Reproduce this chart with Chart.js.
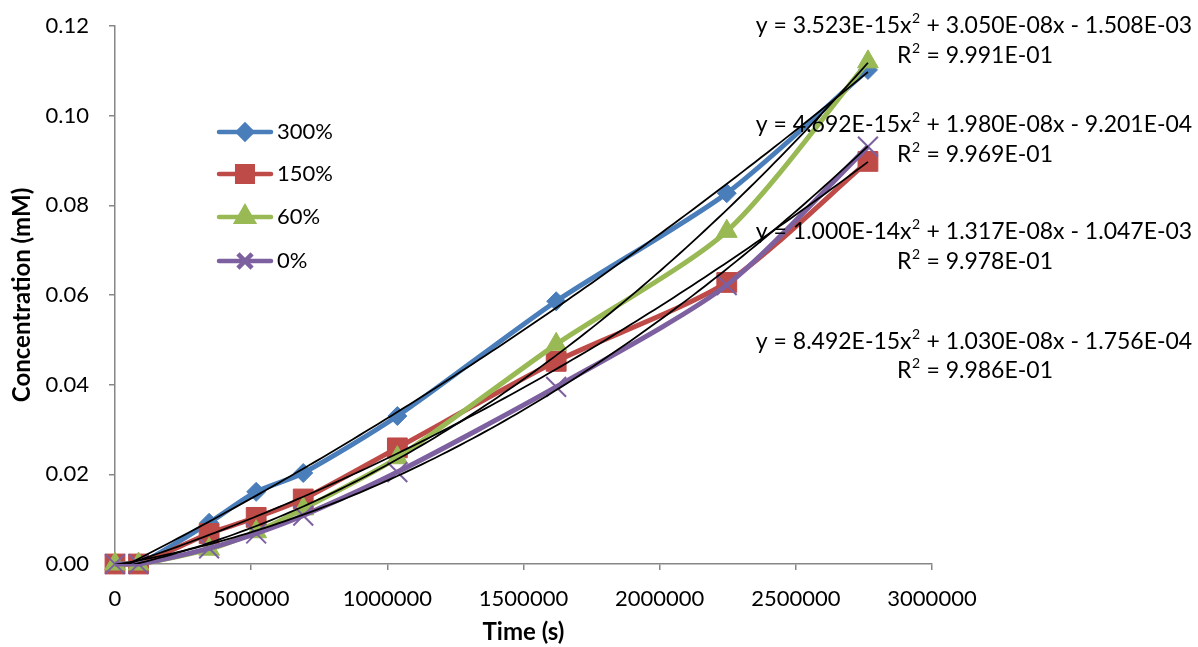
<!DOCTYPE html>
<html>
<head>
<meta charset="utf-8">
<script src="https://cdn.jsdelivr.net/npm/chart.js@4/dist/chart.umd.min.js"></script>
<style>
  html, body { margin: 0; padding: 0; background: #fff; }
  #wrap { width: 1198px; height: 647px; }
</style>
</head>
<body>
<div id="wrap"><canvas id="grafico"></canvas></div>
<script>
// tempos (s) e concentracoes (mM)
const tempos = [0, 86400, 345600, 518400, 691200, 1036800, 1620000, 2246400, 2764800];
const conc300 = [0, 0, 0.0092, 0.0161, 0.0203, 0.0330, 0.0586, 0.0827, 0.1102];
const conc150 = [0, 0, 0.0068, 0.0104, 0.0145, 0.0259, 0.0452, 0.0628, 0.0898];
const conc60 = [0, 0, 0.0033, 0.0072, 0.0123, 0.0237, 0.0490, 0.0742, 0.1120];
const conc0 = [0, 0, 0.0035, 0.0068, 0.0108, 0.0205, 0.0395, 0.0622, 0.0931];

const rotulos = ['300%', '150%', '60%', '0%'];
const cores = ['#4A7EBB', '#BE4B48', '#98B954', '#7D60A0'];
const marcadores = ['rectRot', 'rect', 'triangle', 'crossRot'];
const raios = [9.5, 14, 12, 14];       // tamanho dos marcadores no grafico
const raiosLegenda = [7, 11, 9.5, 10]; // tamanho dos marcadores na legenda

// coeficientes das linhas de tendencia (a x^2 + b x + c), como aparecem no grafico
const coefA = [3.523e-15, 4.692e-15, 1.000e-14, 8.492e-15];
const coefB = [3.050e-08, 1.980e-08, 1.317e-08, 1.030e-08];
const coefC = [-1.508e-03, -9.201e-04, -1.047e-03, -1.756e-04];
const equacoes = [
  'y = 3.523E-15x² + 3.050E-08x - 1.508E-03',
  'y = 4.692E-15x² + 1.980E-08x - 9.201E-04',
  'y = 1.000E-14x² + 1.317E-08x - 1.047E-03',
  'y = 8.492E-15x² + 1.030E-08x - 1.756E-04'
];
const r2 = ['R² = 9.991E-01', 'R² = 9.969E-01', 'R² = 9.978E-01', 'R² = 9.986E-01'];

const fonte = 'Lato, "Open Sans", sans-serif';
const series = [conc300, conc150, conc60, conc0];

function montaDados(valores) {
  return tempos.map((t, i) => ({ x: t, y: valores[i] }));
}

// escreve um texto centrado, com o "²" desenhado como expoente
function textoComExpoente(ctx, txt, cx, cy, tam) {
  const partes = txt.split('²');
  const normal = tam + 'px ' + fonte;
  const menor = Math.round(tam * 0.62) + 'px ' + fonte;
  ctx.font = normal;
  let largura = 0;
  partes.forEach((p, i) => {
    ctx.font = normal;
    largura += ctx.measureText(p).width;
    if (i < partes.length - 1) { ctx.font = menor; largura += ctx.measureText('2').width + 1; }
  });
  let px = cx - largura / 2;
  ctx.textAlign = 'left';
  ctx.textBaseline = 'middle';
  partes.forEach((p, i) => {
    ctx.font = normal;
    ctx.fillText(p, px, cy);
    px += ctx.measureText(p).width;
    if (i < partes.length - 1) {
      ctx.font = menor;
      ctx.fillText('2', px + 0.5, cy - tam * 0.33);
      px += ctx.measureText('2').width + 1;
    }
  });
}

// linhas de tendencia, equacoes e legenda
const extras = {
  id: 'extras',
  afterDatasetsDraw(chart) {
    const { ctx, chartArea, scales: { x, y } } = chart;
    ctx.save();
    ctx.beginPath();
    ctx.rect(chartArea.left, chartArea.top, chartArea.right - chartArea.left, chartArea.bottom - chartArea.top);
    ctx.clip();
    ctx.strokeStyle = '#000';
    ctx.lineWidth = 1.8;
    const tMax = tempos[tempos.length - 1];
    coefA.forEach((a, k) => {
      ctx.beginPath();
      for (let i = 0; i <= 120; i++) {
        const t = tMax * i / 120;
        const v = a * t * t + coefB[k] * t + coefC[k];
        const px = x.getPixelForValue(t), py = y.getPixelForValue(v);
        if (i === 0) ctx.moveTo(px, py); else ctx.lineTo(px, py);
      }
      ctx.stroke();
    });
    ctx.restore();

    ctx.save();
    ctx.fillStyle = '#000';
    const yEq = [26, 125, 232, 342];
    const yR = [56, 155, 262, 371];
    equacoes.forEach((txt, k) => {
      textoComExpoente(ctx, txt, 974, yEq[k], 23);
      textoComExpoente(ctx, r2[k], 975, yR[k], 23);
    });

    // legenda
    const yLeg = [132, 174, 217, 261];
    ctx.font = '22px ' + fonte;
    ctx.textBaseline = 'middle';
    rotulos.forEach((nome, k) => {
      ctx.strokeStyle = cores[k];
      ctx.fillStyle = cores[k];
      ctx.lineWidth = 4.5;
      ctx.lineCap = 'round';
      ctx.beginPath();
      ctx.moveTo(219, yLeg[k]);
      ctx.lineTo(271, yLeg[k]);
      ctx.stroke();
      ctx.lineCap = 'butt';
      Chart.helpers.drawPoint(ctx, {
        pointStyle: marcadores[k], radius: raiosLegenda[k], rotation: 0, borderWidth: k === 3 ? 2 : 1
      }, 245, yLeg[k]);
      ctx.fillStyle = '#000';
      ctx.textAlign = 'left';
      ctx.fillText(nome, 277, yLeg[k]);
    });
    ctx.restore();
  }
};

new Chart(document.getElementById('grafico'), {
  type: 'line',
  data: {
    datasets: series.map((valores, k) => ({
      label: rotulos[k],
      data: montaDados(valores),
      borderColor: cores[k],
      backgroundColor: cores[k],
      pointBorderColor: cores[k],
      pointBackgroundColor: cores[k],
      pointStyle: marcadores[k],
      pointRadius: raios[k],
      pointBorderWidth: k === 3 ? 2 : 1,
      borderWidth: 5,
      tension: 0.25,
      order: 4 - k,
      clip: false
    }))
  },
  plugins: [extras],
  options: {
    responsive: true,
    maintainAspectRatio: false,
    animation: false,
    layout: { padding: { top: 26, right: 266, left: 0, bottom: 0 } },
    plugins: { legend: { display: false }, tooltip: { enabled: false } },
    scales: {
      x: {
        type: 'linear',
        min: 0,
        max: 3000000,
        afterFit: (s) => { s.height = 83; s.paddingLeft = 0; s.paddingRight = 0; },
        ticks: { stepSize: 500000, color: '#000', padding: 16, maxRotation: 0,
          font: { family: fonte, size: 22 }, callback: (v) => String(v) },
        grid: { drawOnChartArea: false, drawTicks: true, tickLength: 6, color: '#868686', lineWidth: 1.5 },
        border: { color: '#868686', width: 1.5 },
        title: { display: true, text: 'Time (s)', color: '#000', padding: { top: 0, bottom: 0 },
          font: { family: fonte, size: 24, weight: 'bold' } }
      },
      y: {
        min: 0,
        max: 0.12,
        afterFit: (s) => { s.width = 115; s.paddingTop = 0; s.paddingBottom = 0; },
        ticks: { stepSize: 0.02, color: '#000', padding: 20,
          font: { family: fonte, size: 22 }, callback: (v) => v.toFixed(2) },
        grid: { drawOnChartArea: false, drawTicks: true, tickLength: 6, color: '#868686', lineWidth: 1.5 },
        border: { color: '#868686', width: 1.5 },
        title: { display: true, text: 'Concentration (mM)', color: '#000', padding: { top: 8, bottom: 0 },
          font: { family: fonte, size: 24, weight: 'bold' } }
      }
    }
  }
});
</script>
</body>
</html>
